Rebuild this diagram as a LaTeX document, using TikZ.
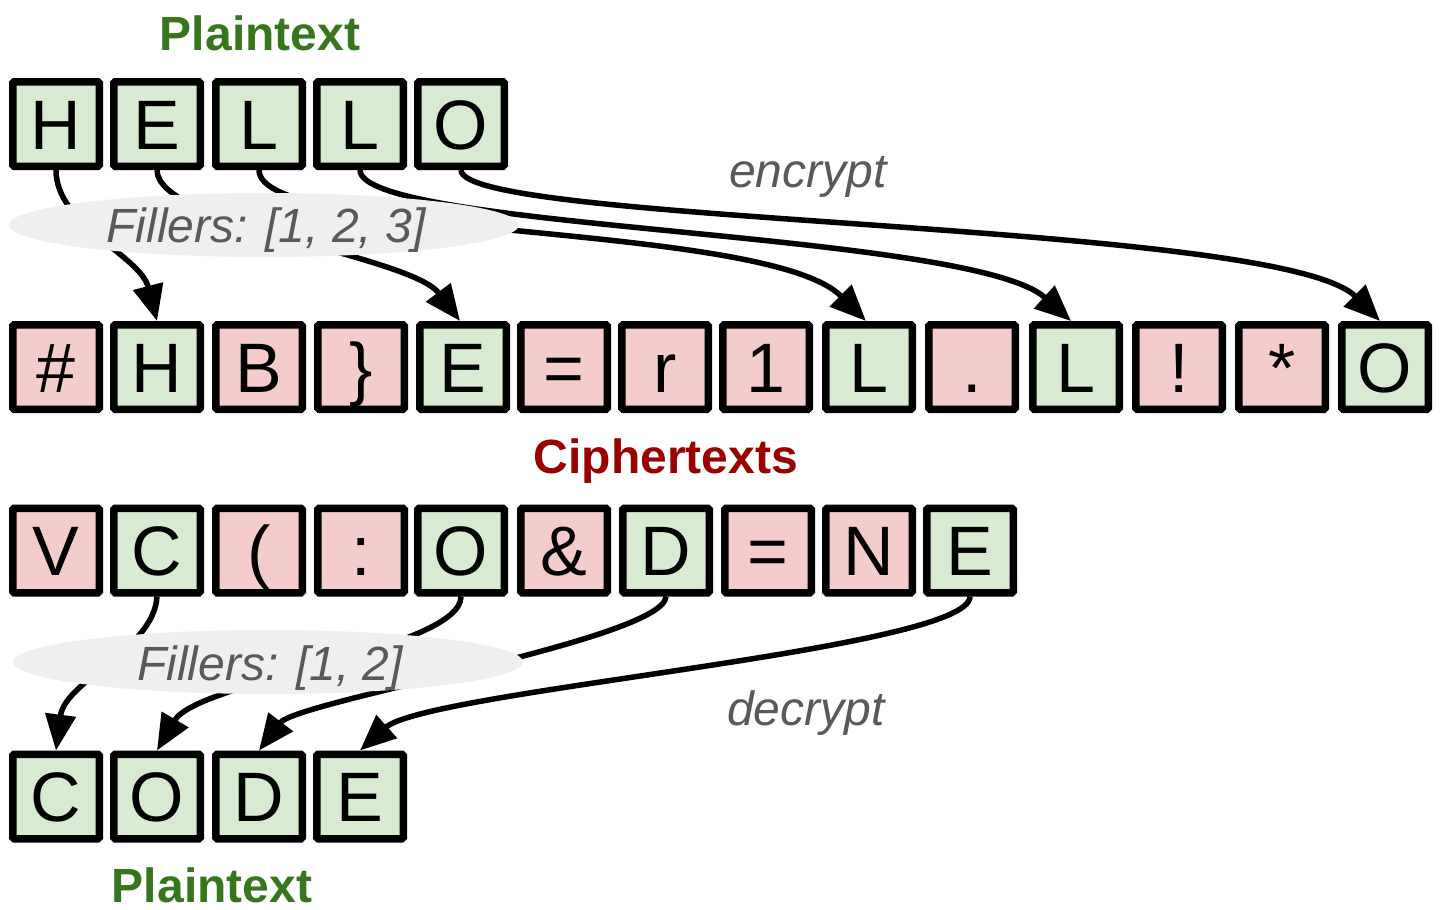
\documentclass[tikz,border=0pt]{standalone}
\usepackage{fontspec}
\setmainfont{Liberation Sans}
\usetikzlibrary{shapes.geometric,arrows.meta}
\definecolor{gfill}{HTML}{D9EAD3}
\definecolor{rfill}{HTML}{F4CCCC}
\definecolor{lgreen}{HTML}{38761D}
\definecolor{lred}{HTML}{990000}
\definecolor{tgray}{HTML}{595959}
\definecolor{efill}{HTML}{EFEFEF}
\begin{document}
\begin{tikzpicture}[x=1pt,y=-1pt,
  cell/.style={draw=black,line width=7.5pt,rounded corners=1.5pt,minimum width=86.5pt,minimum height=84.5pt,inner sep=0pt,text height=50pt,text depth=0pt,font=\fontsize{70}{80}\selectfont},
  good/.style={cell,fill=gfill},
  bad/.style={cell,fill=rfill},
  link/.style={line width=5.5pt,-{Triangle[length=36pt,width=30pt]}},
  title/.style={font=\fontsize{48}{56}\selectfont\bfseries,anchor=base},
  note/.style={font=\fontsize{48}{56}\selectfont\itshape,text=tgray,anchor=base},
  blob/.style={ellipse,fill=efill,minimum width=510pt,minimum height=64pt,inner sep=0pt}]
\useasboundingbox (0,0) rectangle (1444,910);

% titles
\node[title,text=lgreen] (pt1) at (260,50) {Plaintext};
\node[title,text=lred] (ct) at (666,473) {Ciphertexts};
\node[title,text=lgreen] (pt2) at (212,902) {Plaintext};
\node[note] (enc) at (808,187) {encrypt};
\node[note] (dec) at (806,725) {decrypt};

% top row
\node[good] (t1) at (56,124) {H};
\node[good] (t2) at (157,124) {E};
\node[good] (t3) at (259,124) {L};
\node[good] (t4) at (360,124) {L};
\node[good] (t5) at (461,124) {O};

% ciphertext 1
\node[bad]  (m1)  at (56,367) {\#};
\node[good] (m2)  at (157,367) {H};
\node[bad]  (m3)  at (259,367) {B};
\node[bad]  (m4)  at (361,367) {\}};
\node[good] (m5)  at (463,367) {E};
\node[bad]  (m6)  at (564,367) {=};
\node[bad]  (m7)  at (665,367) {r};
\node[bad]  (m8)  at (766,367) {1};
\node[good] (m9)  at (869,367) {L};
\node[bad]  (m10) at (972,367) {.};
\node[good] (m11) at (1076,367) {L};
\node[bad]  (m12) at (1179,367) {!};
\node[bad]  (m13) at (1282,367) {*};
\node[good] (m14) at (1385,367) {O};

% ciphertext 2
\node[bad]  (b1)  at (56,550.5) {V};
\node[good] (b2)  at (157,550.5) {C};
\node[bad]  (b3)  at (259,550.5) {(};
\node[bad]  (b4)  at (361,550.5) {:};
\node[good] (b5)  at (461,550.5) {O};
\node[bad]  (b6)  at (564,550.5) {\&};
\node[good] (b7)  at (666,550.5) {D};
\node[bad]  (b8)  at (768,550.5) {=};
\node[bad]  (b9)  at (869,550.5) {N};
\node[good] (b10) at (970,550.5) {E};

% bottom row
\node[good] (c1) at (56,796.5) {C};
\node[good] (c2) at (157,796.5) {O};
\node[good] (c3) at (259,796.5) {D};
\node[good] (c4) at (360,796.5) {E};

% encrypt connectors
\draw[link] (t1.south) .. controls +(0,55) and +(-17,-66) .. (m2.north);
\draw[link] (t2.south) .. controls +(0,55) and +(-50,-66) .. ([xshift=-3pt]m5.north);
\draw[link] (t3.south) .. controls +(0,70) and +(-100,-100) .. ([xshift=-3pt]m9.north);
\draw[link] (t4.south) .. controls +(0,60) and +(-100,-90) .. ([xshift=-5pt]m11.north);
\draw[link] (t5.south) .. controls +(0,55) and +(-100,-100) .. ([xshift=-5pt]m14.north);

% decrypt connectors
\draw[link] (b2.south) .. controls +(-3,53) and +(9,-70) .. (c1.north);
\draw[link] (b5.south) .. controls +(0,53) and +(41,-70) .. (c2.north);
\draw[link] (b7.south) .. controls +(-2,43) and +(38,-50) .. (c3.north);
\draw[link] (b10.south) .. controls +(0,53) and +(67,-60) .. (c4.north);

% filler ellipses
\node[blob] (f1) at (264,225) {};
\node[note] (f1t) at (266,242) {Fillers: [1, 2, 3]};
\node[blob] (f2) at (268,662) {};
\node[note] (f2t) at (270,680) {Fillers: [1, 2]};
\end{tikzpicture}
\end{document}
